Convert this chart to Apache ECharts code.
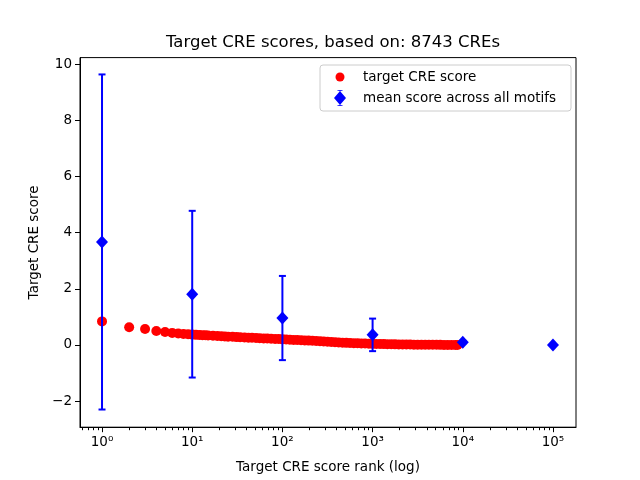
<!DOCTYPE html>
<html>
<head>
<meta charset="utf-8">
<script src="https://cdn.jsdelivr.net/npm/echarts@6/dist/echarts.min.js"></script>
<style>html,body{margin:0;padding:0;background:#fff}#main{width:640px;height:480px}</style>
</head>
<body>
<div id="main"></div>
<script>
// Red: target CRE score by rank
const ranks = [1,2,3,4,5,6,7,8,9,10,11,12,13,14,15,17,19,21,23,25,28,31,34,38,42,46,51,56,62,68,75,83,91,100,110,121,133,146,161,177,195,215,237,261,287,316,348,383,421,464,511,562,619,681,750,825,909,1000,1100,1210,1330,1460,1610,1770,1950,2150,2370,2610,2870,3160,3480,3830,4210,4640,5110,5620,6190,6810,7500,8250,8743];
const scores = [0.84,0.63,0.57,0.50,0.46,0.43,0.41,0.39,0.38,0.37,0.36,0.355,0.35,0.345,0.34,0.33,0.32,0.31,0.30,0.295,0.29,0.28,0.275,0.27,0.26,0.255,0.25,0.24,0.235,0.23,0.22,0.215,0.21,0.20,0.195,0.19,0.18,0.175,0.17,0.16,0.155,0.15,0.14,0.13,0.125,0.115,0.105,0.10,0.09,0.08,0.075,0.07,0.065,0.06,0.055,0.05,0.045,0.04,0.037,0.034,0.031,0.028,0.025,0.022,0.02,0.018,0.016,0.014,0.012,0.01,0.009,0.008,0.007,0.006,0.005,0.004,0.003,0.002,0.001,0.0005,0.0];
// Blue: mean score across all motifs with error bars
const meanX = [1,10,100,1000,10000,100000];
const meanY = [3.67,1.81,0.96,0.36,0.10,0.0];
const meanErr = [5.97,2.97,1.50,0.58,0.05,0.0];
// Ticks
const yTicks = [-2,0,2,4,6,8,10];
const xMajor = [1,10,100,1000,10000,100000];
const xMinor = [];
[0.1,1,10,100,1000,10000,100000].forEach(d=>{for(let k=2;k<=9;k++){const v=k*d; if(v>0.57&&v<180000) xMinor.push(v);}});

const sup = ['\u2070','\u00b9','\u00b2','\u00b3','\u2074','\u2075'];
const font = 'DejaVu Sans';
const X_MIN = 0.57, X_MAX = 180000, Y_MIN = -2.93, Y_MAX = 10.24;

const circleIcon = 'path://M6,0L6,0M6,16L6,16M1.5,8A4.5,4.5 0 1,0 10.5,8A4.5,4.5 0 1,0 1.5,8Z';
const errIcon = 'path://M3.5,0H8.5V0.8H6.4V1.6L12,8L6.4,14.4V15.2H8.5V16H3.5V15.2H5.6V14.4L0,8L5.6,1.6V0.8H3.5Z';

const chart = echarts.init(document.getElementById('main'), null, {renderer:'canvas'});
chart.setOption({
  animation:false,
  backgroundColor:'#fff',
  title:{text:'Target CRE scores, based on: 8743 CREs', left:328, top:29, textAlign:'center',
    textStyle:{fontFamily:font,fontSize:16.5,fontWeight:'normal',color:'#000'}},
  legend:{
    left:320, top:65, orient:'vertical',
    padding:[4,15,5,14], itemGap:5, itemWidth:36, itemHeight:16,
    borderColor:'#cccccc', borderWidth:1, borderRadius:3, backgroundColor:'#fff',
    textStyle:{fontFamily:font,fontSize:13.5,color:'#000',lineHeight:16},
    data:[
      {name:'target CRE score', icon:circleIcon},
      {name:'mean score across all motifs', icon:errIcon}
    ]
  },
  grid:{left:80, right:64, top:57.6, bottom:52.8, show:true, borderColor:'#000', borderWidth:1, backgroundColor:'transparent'},
  xAxis:[{
    type:'log', logBase:10, min:X_MIN, max:X_MAX,
    name:'Target CRE score rank (log)', nameLocation:'middle', nameGap:33,
    nameTextStyle:{fontFamily:font,fontSize:13.5,color:'#000'},
    axisLine:{show:true,onZero:false,lineStyle:{color:'#000',width:1}},
    axisTick:{show:true,length:5,lineStyle:{color:'#000'},customValues:xMajor},
    axisLabel:{fontFamily:font,fontSize:13.5,color:'#000',margin:8,customValues:xMajor,
      formatter:v=>'10'+sup[Math.round(Math.log10(v))]},
    splitLine:{show:false}, minorTick:{show:false}
  },{
    type:'log', logBase:10, min:X_MIN, max:X_MAX, position:'bottom',
    axisLine:{show:false,onZero:false},
    axisTick:{show:true,length:3,lineStyle:{color:'#000'},customValues:xMinor},
    axisLabel:{show:false}, splitLine:{show:false}
  }],
  yAxis:{
    type:'value', min:Y_MIN, max:Y_MAX,
    name:'Target CRE score', nameLocation:'middle', nameGap:37, nameRotate:90,
    nameTextStyle:{fontFamily:font,fontSize:13.5,color:'#000'},
    axisLine:{show:true,onZero:false,lineStyle:{color:'#000',width:1}},
    axisTick:{show:true,length:5,lineStyle:{color:'#000'},customValues:yTicks},
    axisLabel:{fontFamily:font,fontSize:13.5,color:'#000',margin:8,customValues:yTicks,
      formatter:v=>v<0?'\u2212'+Math.abs(v):String(v)},
    splitLine:{show:false}
  },
  series:[
    {
      name:'target CRE score', type:'scatter', xAxisIndex:0,
      data:ranks.map((r,i)=>[r,scores[i]]),
      symbol:'circle', symbolSize:10,
      itemStyle:{color:'#ff0000',opacity:1}, z:3
    },
    {
      name:'errbars', type:'custom', xAxisIndex:0,
      data:meanX.map((x,i)=>[x,meanY[i]-meanErr[i],meanY[i]+meanErr[i]]),
      renderItem:(params,api)=>{
        const lo=api.coord([api.value(0),api.value(1)]);
        const hi=api.coord([api.value(0),api.value(2)]);
        const st={stroke:'#0000ff',lineWidth:2};
        return {type:'group',children:[
          {type:'line',shape:{x1:lo[0],y1:lo[1],x2:hi[0],y2:hi[1]},style:st},
          {type:'line',shape:{x1:lo[0]-3.5,y1:lo[1],x2:lo[0]+3.5,y2:lo[1]},style:st},
          {type:'line',shape:{x1:hi[0]-3.5,y1:hi[1],x2:hi[0]+3.5,y2:hi[1]},style:st}
        ]};
      },
      z:4, silent:true
    },
    {
      name:'mean score across all motifs', type:'scatter', xAxisIndex:0,
      data:meanX.map((x,i)=>[x,meanY[i]]),
      symbol:'diamond', symbolSize:[12,13],
      itemStyle:{color:'#0000ff',opacity:1}, z:5
    }
  ]
});
</script>
</body>
</html>
